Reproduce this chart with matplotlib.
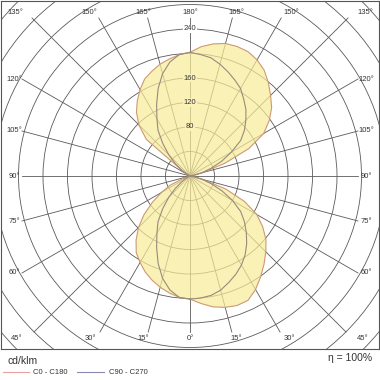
import numpy as np
import matplotlib.pyplot as plt
from matplotlib.patches import Circle
from matplotlib.colors import to_rgb

plt.rcParams['font.family'] = ['Liberation Sans', 'DejaVu Sans']

# gamma angles (0 = down, 180 = up), one value per 5 degrees
gamma = np.arange(0, 181, 5)

# luminous intensity, cd/klm
c0 = [201, 209, 217, 222, 225, 224, 214, 201, 188, 175, 162, 145, 126, 98, 62, 21, 0,
      0, 0,
      0, 0, 20, 60, 106, 139, 158, 174, 186, 199, 211, 219, 224, 225, 224, 219, 212, 202]
c180 = [201, 199, 194, 188, 181, 173, 163, 153, 137, 119, 98, 75, 54, 36, 13, 0,
        0, 0, 0, 0, 0, 0, 0, 0,
        0, 16, 93, 118, 136, 150, 163, 175, 182, 189, 194, 199, 202]
c90 = [201, 200, 198, 193, 185, 177, 168, 157, 144, 130, 116, 101, 80, 58, 37, 20, 8, 2, 0,
       2, 8, 20, 36, 57, 78, 101, 116, 129, 142, 153, 165, 173, 181, 189, 196, 199, 202]
c270 = [201, 199, 189, 173, 152, 129, 108, 91, 69, 49, 31, 16, 7, 0,
        0, 0, 0, 0, 0, 0, 0, 0, 0,
        0, 7, 16, 31, 49, 69, 91, 108, 129, 152, 173, 189, 199, 202]

ring_values = np.arange(40, 481, 40)
ring_labels = [80, 120, 160, 240]
spoke_angles = np.arange(0, 181, 15)

S = 0.6125  # pixels per cd/klm

fill_col = '#f8ec98'
fill_alpha = 0.7
grid_col = '#5a5a5a'


def half_curve(values, side):
    g = np.radians(gamma)
    v = np.asarray(values, dtype=float)
    return side * v * np.sin(g), -v * np.cos(g)


fig = plt.figure(figsize=(3.8, 3.8), dpi=100)
ax = fig.add_axes([1 / 380, 31 / 380, 378 / 380, 348 / 380])
ax.set_xlim(-189 / S, 189 / S)
ax.set_ylim(-173 / S, 175 / S)
ax.set_xticks([])
ax.set_yticks([])
for sp in ax.spines.values():
    sp.set_color('#555555')
    sp.set_linewidth(0.8)

# rings
for rv in ring_values:
    ax.add_patch(Circle((0, 0), rv, fill=False, color=grid_col, lw=0.6, zorder=1))

# spokes and angle labels
for a in spoke_angles:
    sides = [1] if a in (0, 180) else [1, -1]
    for side in sides:
        dx = side * np.sin(np.radians(a))
        dy = -np.cos(np.radians(a))
        tx = 168 / S / abs(dx) if abs(dx) > 1e-9 else np.inf
        if dy > 1e-9:
            ty = 158 / S / dy
        elif dy < -1e-9:
            ty = 156 / S / -dy
        else:
            ty = np.inf
        t = min(tx, ty)
        ax.plot([0, t * dx], [0, t * dy], color=grid_col, lw=0.6, zorder=1)
        if ty <= tx:
            yedge = 175 / S if dy > 0 else -173 / S
            lx = np.clip(yedge / dy * dx, -176 / S, 176 / S)
            ly = 164 / S if dy > 0 else -162 / S
        else:
            lx = np.sign(dx) * 176 / S
            ly = t * dy
        ax.text(lx, ly, f'{a}°', fontsize=5.5, color='#333333',
                ha='center', va='center', zorder=5)

# light distribution
x0, y0 = half_curve(c0, 1)
x180, y180 = half_curve(c180, -1)
x90, y90 = half_curve(c90, 1)
x270, y270 = half_curve(c270, -1)

ox = np.concatenate([x0, x180[::-1]])
oy = np.concatenate([y0, y180[::-1]])
ix = np.concatenate([x90, x270[::-1]])
iy = np.concatenate([y90, y270[::-1]])

ax.fill(ox, oy, color=fill_col, alpha=fill_alpha, lw=0, zorder=2)
ax.plot(ox, oy, color='#cc9a72', lw=0.8, zorder=3)
ax.plot(ix, iy, color='#9a8a7c', lw=0.8, zorder=3)

# radial value labels
fc = np.array(to_rgb(fill_col))
mixed = 1 - fill_alpha * (1 - fc)
for rv in ring_labels:
    inside = rv < 200
    ax.text(0, rv, str(rv), fontsize=5.5, color='#333333', ha='center', va='center',
            zorder=5, bbox=dict(facecolor=mixed if inside else 'white',
                                edgecolor='none', pad=0.6))

# texts below the frame
fig.text(8 / 380, 1 - 361 / 380, 'cd/klm', fontsize=7.5, color='#333333',
         ha='left', va='center')
fig.lines.append(plt.Line2D([3 / 380, 29 / 380], [1 - 372 / 380] * 2,
                            color='#e8a0a0', lw=0.8, transform=fig.transFigure))
fig.text(33 / 380, 1 - 373 / 380, 'C0 - C180', fontsize=5.5, color='#333333',
         ha='left', va='center')
fig.lines.append(plt.Line2D([77 / 380, 104 / 380], [1 - 372 / 380] * 2,
                            color='#8888b0', lw=0.8, transform=fig.transFigure))
fig.text(109 / 380, 1 - 373 / 380, 'C90 - C270', fontsize=5.5, color='#333333',
         ha='left', va='center')
fig.text(372 / 380, 1 - 358 / 380, 'η = 100%', fontsize=7.5, color='#333333',
         ha='right', va='center')

fig.savefig('out.png', dpi=100)
